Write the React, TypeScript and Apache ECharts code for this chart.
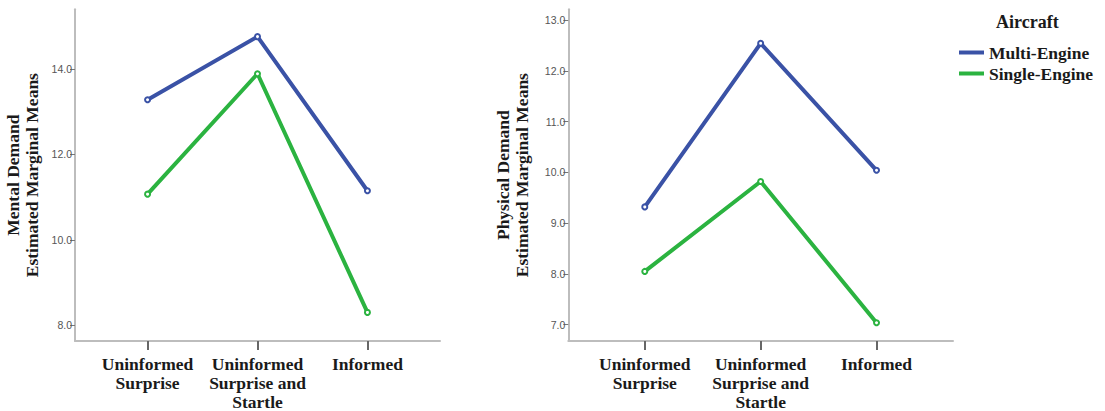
import React, { useEffect, useRef } from "react";
import * as echarts from "echarts";

const categories = ["Uninformed\nSurprise", "Uninformed\nSurprise and\nStartle", "Informed"];
const seriesNames = ["Multi-Engine", "Single-Engine"];
const mentalMulti = [13.28, 14.76, 11.15];
const mentalSingle = [11.07, 13.89, 8.3];
const physicalMulti = [9.32, 12.54, 10.04];
const physicalSingle = [8.05, 9.82, 7.04];
const mentalTicks = [8, 10, 12, 14];
const physicalTicks = [7, 8, 9, 10, 11, 12, 13];
const categoryIndex = [0, 1, 2];

const BLUE = "#3a52a6";
const GREEN = "#2bb340";
const SERIF = "'Liberation Serif', 'Times New Roman', serif";
const SANS = "'Liberation Sans', Arial, sans-serif";

function xAxisFor(gridIndex: number) {
  return {
    type: "value" as const,
    gridIndex,
    min: -0.66,
    max: 2.66,
    splitLine: { show: false },
    axisLine: { show: true, onZero: false, lineStyle: { color: "#bdbdbd", width: 2 } },
    axisTick: {
      show: true,
      customValues: categoryIndex,
      length: 9,
      lineStyle: { color: "#666", width: 2 },
    },
    axisLabel: {
      customValues: categoryIndex,
      formatter: (v: number) => categories[Math.round(v)] ?? "",
      margin: 13,
      fontFamily: SERIF,
      fontWeight: "bold" as const,
      fontSize: 17.5,
      lineHeight: 19,
      color: "#1a1a1a",
    },
  };
}

function yAxisFor(gridIndex: number, min: number, max: number, ticks: number[], name: string, nameGap: number) {
  return {
    type: "value" as const,
    gridIndex,
    min,
    max,
    name,
    nameLocation: "middle" as const,
    nameGap,
    nameTextStyle: {
      fontFamily: SERIF,
      fontWeight: "bold" as const,
      fontSize: 17.5,
      lineHeight: 19,
      color: "#1a1a1a",
    },
    splitLine: { show: false },
    axisLine: { show: true, onZero: false, lineStyle: { color: "#bdbdbd", width: 2 } },
    axisTick: { show: true, customValues: ticks, length: 5, lineStyle: { color: "#777", width: 1 } },
    axisLabel: {
      customValues: ticks,
      formatter: (v: number) => v.toFixed(1),
      margin: 3,
      fontFamily: SANS,
      fontSize: 10.5,
      color: "#555",
    },
  };
}

function lineSeries(name: string, values: number[], color: string, axisIndex: number) {
  return {
    type: "line" as const,
    name,
    xAxisIndex: axisIndex,
    yAxisIndex: axisIndex,
    data: values.map((v, i) => [categoryIndex[i], v]),
    symbol: "emptyCircle",
    symbolSize: 5,
    lineStyle: { color, width: 4 },
    itemStyle: { color, borderColor: color, borderWidth: 1 },
  };
}

export default function App() {
  const ref = useRef<HTMLDivElement>(null);
  useEffect(() => {
    if (!ref.current) return;
    const chart = echarts.init(ref.current, null, { renderer: "svg" });
    chart.setOption({
      animation: false,
      backgroundColor: "#ffffff",
      title: {
        text: "Aircraft",
        left: 991,
        top: 8,
        textStyle: { fontFamily: SERIF, fontWeight: "bold", fontSize: 18, color: "#1a1a1a" },
      },
      legend: {
        orient: "vertical",
        left: 954,
        top: 38,
        icon: "rect",
        itemWidth: 25,
        itemHeight: 4,
        itemGap: 2,
        textStyle: { fontFamily: SERIF, fontWeight: "bold", fontSize: 17.5, lineHeight: 19, color: "#1a1a1a" },
        data: [
          { name: seriesNames[0], itemStyle: { color: BLUE, borderWidth: 0 } },
          { name: seriesNames[1], itemStyle: { color: GREEN, borderWidth: 0 } },
        ],
      },
      grid: [
        { left: 75, right: 665, top: 9.3, bottom: 68.3 },
        { left: 568.3, right: 152, top: 9.3, bottom: 66.7 },
      ],
      xAxis: [xAxisFor(0), xAxisFor(1)],
      yAxis: [
        yAxisFor(0, 7.63, 15.4, mentalTicks, "Mental Demand\nEstimated Marginal Means", 34),
        yAxisFor(1, 6.68, 13.21, physicalTicks, "Physical Demand\nEstimated Marginal Means", 37),
      ],
      series: [
        lineSeries(seriesNames[0], mentalMulti, BLUE, 0),
        lineSeries(seriesNames[1], mentalSingle, GREEN, 0),
        lineSeries(seriesNames[0], physicalMulti, BLUE, 1),
        lineSeries(seriesNames[1], physicalSingle, GREEN, 1),
      ],
    });
    return () => chart.dispose();
  }, []);
  return <div ref={ref} style={{ position: "fixed", left: 0, top: 0, width: 1105, height: 411 }} />;
}
